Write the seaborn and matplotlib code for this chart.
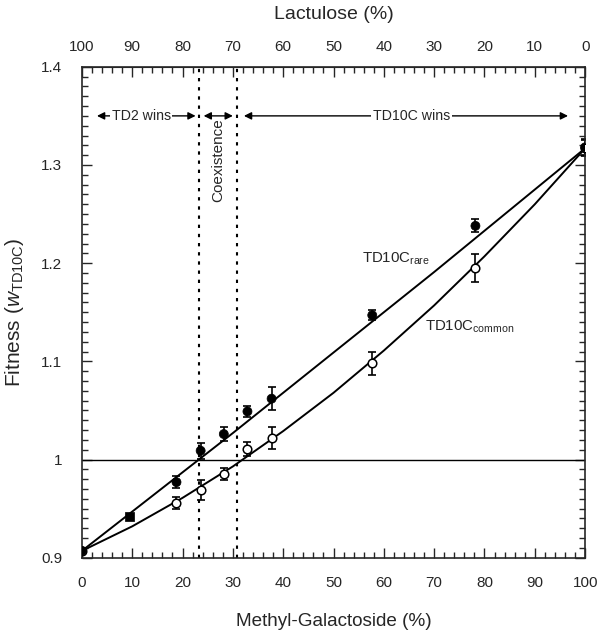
import numpy as np
import matplotlib
matplotlib.use("Agg")
import matplotlib.pyplot as plt
from matplotlib.ticker import MultipleLocator, FixedLocator
import seaborn as sns
import pandas as pd

# data
rare_x = [0, 9.5, 18.8, 23.6, 28.2, 32.9, 37.7, 57.7, 78.2, 100]
rare_y = [0.907, 0.942, 0.977, 1.009, 1.026, 1.049, 1.062, 1.147, 1.238, 1.318]
rare_err = [0, 0, 0.006, 0.008, 0.007, 0.006, 0.012, 0.005, 0.0065, 0.008]

common_x = [0, 18.8, 23.6, 28.2, 32.9, 37.7, 57.7, 78.2, 100]
common_y = [0.907, 0.956, 0.969, 0.985, 1.011, 1.022, 1.098, 1.195, 1.317]
common_err = [0, 0.006, 0.010, 0.006, 0.007, 0.011, 0.012, 0.014, 0.008]

# fitted curves, sampled every 10 %
fit_x = [0, 10, 20, 30, 40, 50, 60, 70, 80, 90, 100]
fit_rare = [0.907, 0.947, 0.987, 1.027, 1.068, 1.109, 1.150, 1.191, 1.233, 1.275, 1.317]
fit_common = [0.907, 0.932, 0.961, 0.993, 1.029, 1.068, 1.111, 1.157, 1.207, 1.260, 1.317]

boundaries = [23.3, 30.8]
x_ticks = [0, 10, 20, 30, 40, 50, 60, 70, 80, 90, 100]
y_ticks = [0.9, 1.0, 1.1, 1.2, 1.3, 1.4]
y_tick_labels = ["0.9", "1", "1.1", "1.2", "1.3", "1.4"]

sns.set_style("ticks")
plt.rcParams["font.family"] = ["Liberation Sans", "DejaVu Sans"]
plt.rcParams["mathtext.fontset"] = "custom"
plt.rcParams["mathtext.rm"] = "Liberation Sans"
plt.rcParams["mathtext.it"] = "Liberation Sans:italic"

fig = plt.figure(figsize=(6.02, 6.36), dpi=100)
ax = fig.add_axes([0.136, 0.123, 0.836, 0.772])

sns.lineplot(x=fit_x, y=fit_rare, sort=False, color="black", lw=1.4, ax=ax)
sns.lineplot(x=fit_x, y=fit_common, sort=False, color="black", lw=1.4, ax=ax)

ax.axhline(1.0, color="black", lw=1.0)
for b in boundaries:
    ax.axvline(b, color="black", lw=1.5, ls=(0, (1.6, 2.8)))

ax.errorbar(rare_x, rare_y, yerr=rare_err, fmt="none", ecolor="black",
            elinewidth=1.2, capsize=3, capthick=1.2)
ax.errorbar(common_x, common_y, yerr=common_err, fmt="none", ecolor="black",
            elinewidth=1.2, capsize=3, capthick=1.2)

rare_df = pd.DataFrame({"x": rare_x, "y": rare_y,
                        "m": ["o", "s"] + ["o"] * (len(rare_x) - 2)})
common_df = pd.DataFrame({"x": common_x, "y": common_y})
sns.scatterplot(data=common_df, x="x", y="y", marker="o", s=38, facecolor="white",
                edgecolor="black", linewidth=1.1, ax=ax, zorder=5)
sns.scatterplot(data=rare_df, x="x", y="y", style="m", markers={"o": "o", "s": "s"},
                s=42, color="black", edgecolor="black", ax=ax, zorder=6,
                legend=False)

ax.set_xlim(0, 100)
ax.set_ylim(0.9, 1.4)
ax.xaxis.set_major_locator(FixedLocator(x_ticks))
ax.xaxis.set_minor_locator(MultipleLocator(2))
ax.set_yticks(y_ticks)
ax.set_yticklabels(y_tick_labels)
ax.yaxis.set_minor_locator(MultipleLocator(0.01))
ax.tick_params(which="both", direction="in", right=True, top=False,
               labelsize=11, width=1.0)
ax.tick_params(axis="x", pad=13)
ax.tick_params(axis="y", pad=14)
ax.tick_params(which="major", length=7)
ax.tick_params(which="minor", length=4)
for s in ax.spines.values():
    s.set_linewidth(1.2)

top = ax.secondary_xaxis("top", functions=(lambda v: 100 - v, lambda v: 100 - v))
top.xaxis.set_major_locator(FixedLocator(x_ticks))
top.xaxis.set_minor_locator(MultipleLocator(2))
top.tick_params(which="both", direction="in", labelsize=11, width=1.0, pad=9)
top.tick_params(which="major", length=7)
top.tick_params(which="minor", length=4)
top.set_xlabel("Lactulose (%)", fontsize=14, labelpad=15)

ax.set_xlabel("Methyl-Galactoside (%)", fontsize=13.6, labelpad=17)
ax.set_ylabel(r"Fitness ($\mathit{w}_{\mathrm{TD10C}}$)", fontsize=15, labelpad=11)

# region arrows
arrow = dict(arrowstyle="<|-|>", color="black", lw=1.0,
             mutation_scale=11, shrinkA=0, shrinkB=0)
ax.annotate("", xy=(3, 1.35), xytext=(22.6, 1.35), arrowprops=arrow)
ax.annotate("", xy=(24.2, 1.35), xytext=(30.0, 1.35), arrowprops=arrow)
ax.annotate("", xy=(32.2, 1.35), xytext=(96.6, 1.35), arrowprops=arrow)
box = dict(facecolor="white", edgecolor="none", pad=1)
ax.text(11.8, 1.35, "TD2 wins", ha="center", va="center", fontsize=10.2, bbox=box)
ax.text(65.5, 1.35, "TD10C wins", ha="center", va="center", fontsize=10.2, bbox=box)
ax.text(27.1, 1.305, "Coexistence", rotation=90, ha="center", va="center",
        fontsize=11)

ax.text(55.7, 1.204, r"TD10C$_{\mathrm{rare}}$", fontsize=10.8, va="center")
ax.text(68.2, 1.135, r"TD10C$_{\mathrm{common}}$", fontsize=10.8, va="center")

fig.savefig("out.png", dpi=100)
